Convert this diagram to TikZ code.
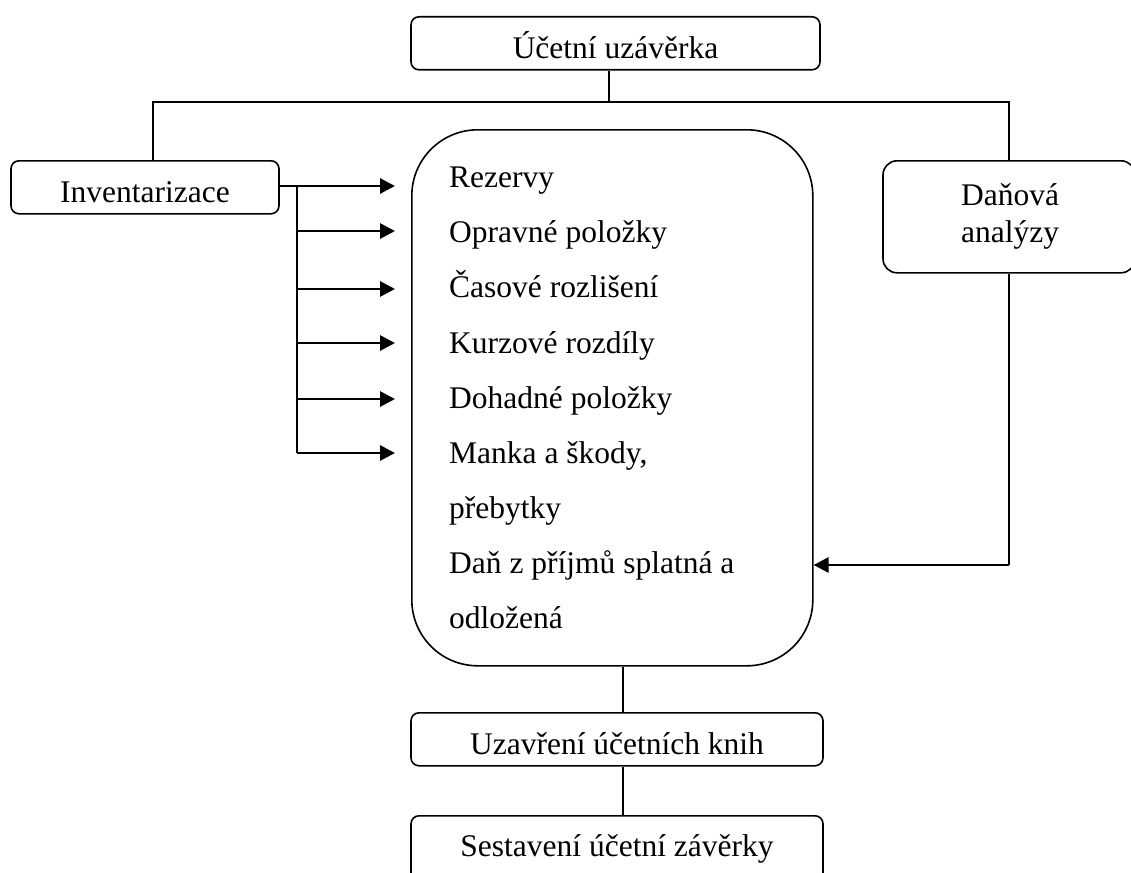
\documentclass[tikz,border=0pt]{standalone}
\usepackage{fontspec}
\setmainfont{Liberation Serif}
\usetikzlibrary{arrows.meta}
\begin{document}
\begin{tikzpicture}[x=1pt,y=-1pt,
  every node/.style={font=\fontsize{31.5}{37}\selectfont},
  box/.style={draw, line width=1.6pt, rounded corners=8pt, inner sep=0pt, text height=42pt, text depth=11pt},
  ln/.style={line width=1.6pt},
  bus/.style={line width=2pt},
  arr/.style={line width=2.8pt, -{Triangle[length=15pt,width=15pt]}},
  item/.style={anchor=base west, inner sep=0pt},
  txt/.style={anchor=base, inner sep=0pt}]
\useasboundingbox (0,0) rectangle (1131,872);
\clip (0,0) rectangle (1131,872);

% boxes
\node[box, minimum width=409pt, anchor=north] (top) at (615.5,16) {Účetní uzávěrka};
\node[box, minimum width=268pt, anchor=north] (inv) at (145,160) {Inventarizace};
\node[box, rounded corners=14pt, minimum width=252pt, minimum height=112pt, anchor=north] (dan) at (1009,160) {};
\node[txt] (dan1) at (1010,205) {Daňová};
\node[txt] (dan2) at (1010,242) {analýzy};
\node[draw, ln, rounded corners=66pt, minimum width=401pt, minimum height=536pt, inner sep=0pt, anchor=north west] (big) at (411,129) {};
\node[box, minimum width=412pt, anchor=north] (uz) at (617,712) {Uzavření účetních knih};
\node[box, minimum width=412pt, anchor=north, text height=41pt, text depth=40pt] (ses) at (617,815) {Sestavení účetní závěrky};

% items
\node[item] (i1) at (449,187) {Rezervy};
\node[item] (i2) at (449,242) {Opravné položky};
\node[item] (i3) at (449,297) {Časové rozlišení};
\node[item] (i4) at (449,353) {Kurzové rozdíly};
\node[item] (i5) at (449,408) {Dohadné položky};
\node[item] (i6) at (449,463) {Manka a škody,};
\node[item] (i7) at (449,518) {přebytky};
\node[item] (i8) at (449,573) {Daň z příjmů splatná a};
\node[item] (i9) at (449,628) {odložená};

% top connectors
\coordinate (jt) at (609,102);
\coordinate (jl) at (153,102);
\coordinate (jr) at (1009,102);
\draw[ln] (top.south -| jt) -- (jt);
\draw[ln] (inv.north -| jl) -- (jl) -- (jr) -- (dan.north);

% inventarizace arrows
\coordinate (t1) at (395,186);
\coordinate (t2) at (395,231);
\coordinate (t3) at (395,289);
\coordinate (t4) at (395,343);
\coordinate (t5) at (395,399);
\coordinate (t6) at (395,453);
\coordinate (b1) at (297,186);
\coordinate (b2) at (297,231);
\coordinate (b3) at (297,289);
\coordinate (b4) at (297,343);
\coordinate (b5) at (297,399);
\coordinate (b6) at (297,453);
\draw[arr] (inv.east |- t1) -- (t1);
\draw[bus] (b1) -- (b6);
\draw[arr] (b2) -- (t2);
\draw[arr] (b3) -- (t3);
\draw[arr] (b4) -- (t4);
\draw[arr] (b5) -- (t5);
\draw[arr] (b6) -- (t6);

% danova arrow
\coordinate (dk) at (1009,565);
\draw[ln] (dan.south) -- (dk);
\draw[arr] (dk) -- (big.east |- dk);

% bottom connectors
\coordinate (cx) at (623,700);
\draw[ln] (big.south -| cx) -- (uz.north -| cx);
\draw[ln] (uz.south -| cx) -- (ses.north -| cx);
\end{tikzpicture}
\end{document}
